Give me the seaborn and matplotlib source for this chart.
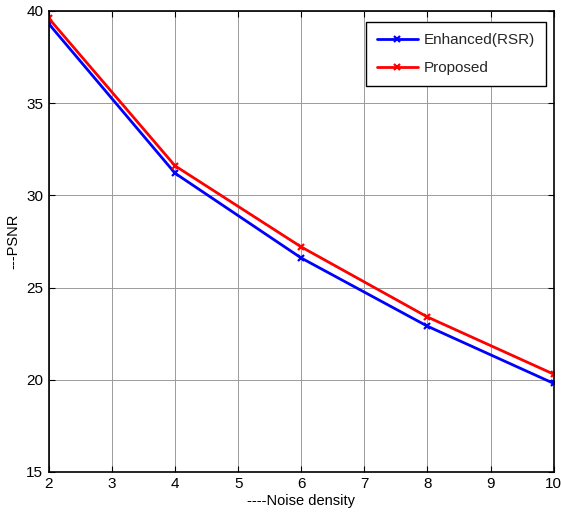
import numpy as np
import pandas as pd
import matplotlib
matplotlib.use("Agg")
import matplotlib.pyplot as plt
import seaborn as sns

# values
noise_density = [2, 4, 6, 8, 10]
psnr_enhanced = [39.3, 31.2, 26.6, 22.9, 19.8]
psnr_proposed = [39.6, 31.6, 27.2, 23.4, 20.3]
series_names = ["Enhanced(RSR)", "Proposed"]
series_colors = ["#0000ff", "#ff0000"]

sns.set_theme(style="whitegrid")
plt.rcParams["font.family"] = ["Liberation Sans", "DejaVu Sans"]

fig = plt.figure(figsize=(5.61, 5.22), dpi=100)
ax = fig.add_axes([0.087, 0.096, 0.9, 0.883])

for name, vals, col in zip(series_names, [psnr_enhanced, psnr_proposed], series_colors):
    sns.lineplot(x=noise_density, y=vals, color=col, label=name,
                 marker="x", markersize=5, markeredgewidth=1.6,
                 markeredgecolor=col, linewidth=2, ax=ax)

ax.set_xlim(2, 10)
ax.set_ylim(15, 40)
ax.set_xticks(range(2, 11))
ax.set_yticks(range(15, 41, 5))
ax.set_xlabel("----Noise density", fontsize=10.5, color="black", labelpad=2)
ax.set_ylabel("---PSNR", fontsize=10.5, color="black", labelpad=4)
ax.tick_params(direction="in", length=4, width=0.8, colors="black",
               labelsize=11, pad=4, top=True, right=True, bottom=True, left=True)
ax.set_facecolor("white")
ax.grid(True, color="#9a9a9a", linewidth=0.7)
for s in ax.spines.values():
    s.set_color("black")
    s.set_linewidth(1.2)

leg = ax.legend(loc="upper right", bbox_to_anchor=(0.985, 0.975), borderaxespad=0,
                fontsize=11, frameon=True, fancybox=False,
                edgecolor="black", framealpha=1,
                borderpad=0.7, handlelength=2.7, labelspacing=0.9,
                handletextpad=0.4)
leg.get_frame().set_linewidth(1.0)

fig.savefig("out.png", dpi=100)
